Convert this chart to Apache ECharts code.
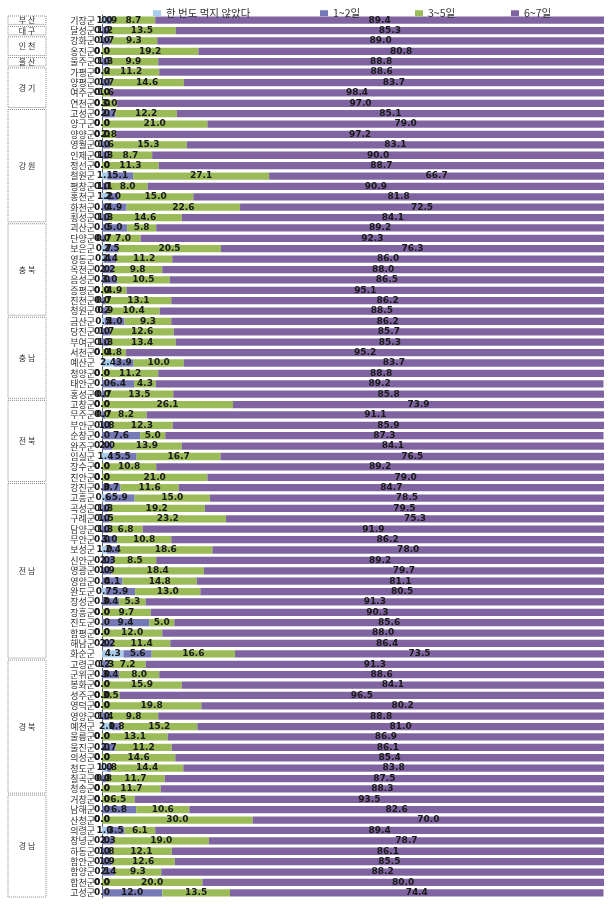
<!DOCTYPE html>
<html>
<head>
<meta charset="utf-8">
<script src="https://cdn.jsdelivr.net/npm/echarts@6/dist/echarts.min.js"></script>
<style>
  html, body { margin: 0; padding: 0; background: #fff; }
  #chart { width: 614px; height: 908px; }
</style>
</head>
<body>
<div id="chart"></div>
<script>
const categories = [
  '기장군', '달성군', '강화군', '옹진군', '울주군',
  '가평군', '양평군', '여주군', '연천군',
  '고성군', '양구군', '양양군', '영월군', '인제군', '정선군', '철원군', '평창군', '홍천군', '화천군', '횡성군',
  '괴산군', '단양군', '보은군', '영동군', '옥천군', '음성군', '증평군', '진천군', '청원군',
  '금산군', '당진군', '부여군', '서천군', '예산군', '청양군', '태안군', '홍성군',
  '고창군', '무주군', '부안군', '순창군', '완주군', '임실군', '장수군', '진안군',
  '강진군', '고흥군', '곡성군', '구례군', '담양군', '무안군', '보성군', '신안군', '영광군', '영암군',
  '완도군', '장성군', '장흥군', '진도군', '함평군', '해남군', '화순군',
  '고령군', '군위군', '봉화군', '성주군', '영덕군', '영양군', '예천군', '울릉군', '울진군', '의성군',
  '청도군', '칠곡군', '청송군',
  '거창군', '남해군', '산청군', '의령군', '창녕군', '하동군', '함안군', '함양군', '합천군', '고성군'
];

const neverAte = [
  1.0, 0.0, 0.0, 0.0, 0.0,
  0.0, 0.0, 0.0, 0.0,
  0.0, 0.0, 0.0, 0.0, 0.0, 0.0, 1.1, 0.0, 1.2, 0.0, 0.0,
  0.0, 0.0, 0.7, 0.4, 0.0, 0.0, 0.0, 0.0, 0.2,
  0.5, 0.0, 0.0, 0.0, 2.4, 0.0, 0.0, 0.0,
  0.0, 0.0, 0.0, 0.0, 0.0, 1.4, 0.0, 0.0,
  0.0, 0.6, 0.0, 0.0, 0.0, 0.0, 1.0, 0.0, 0.0, 0.0,
  0.7, 0.0, 0.0, 0.0, 0.0, 0.0, 4.3,
  0.2, 0.0, 0.0, 0.0, 0.0, 0.0, 2.0, 0.0, 0.0, 0.0,
  1.0, 0.0, 0.0,
  0.0, 0.0, 0.0, 1.0, 0.0, 0.0, 0.0, 0.1, 0.0, 0.0
];

const days12 = [
  0.9, 1.2, 1.7, 0.0, 1.3,
  0.2, 1.7, 0.0, 0.0,
  2.7, 0.0, 0.0, 1.6, 1.3, 0.0, 5.1, 1.1, 2.0, 4.9, 1.3,
  5.0, 0.7, 2.5, 2.4, 2.2, 3.0, 0.0, 0.7, 0.9,
  4.0, 1.7, 1.3, 0.0, 3.9, 0.0, 6.4, 0.7,
  0.0, 0.7, 1.8, 7.6, 2.0, 5.5, 0.0, 0.0,
  3.7, 5.9, 1.3, 1.5, 1.3, 3.0, 2.4, 2.3, 1.9, 4.1,
  5.9, 3.4, 0.0, 9.4, 0.0, 2.2, 5.6,
  1.3, 3.4, 0.0, 0.0, 0.0, 1.4, 1.8, 0.0, 2.7, 0.0,
  0.8, 0.8, 0.0,
  0.0, 6.8, 0.0, 3.5, 2.3, 1.8, 1.9, 2.4, 0.0, 12.0
];

const days35 = [
  8.7, 13.5, 9.3, 19.2, 9.9,
  11.2, 14.6, 1.6, 3.0,
  12.2, 21.0, 2.8, 15.3, 8.7, 11.3, 27.1, 8.0, 15.0, 22.6, 14.6,
  5.8, 7.0, 20.5, 11.2, 9.8, 10.5, 4.9, 13.1, 10.4,
  9.3, 12.6, 13.4, 4.8, 10.0, 11.2, 4.3, 13.5,
  26.1, 8.2, 12.3, 5.0, 13.9, 16.7, 10.8, 21.0,
  11.6, 15.0, 19.2, 23.2, 6.8, 10.8, 18.6, 8.5, 18.4, 14.8,
  13.0, 5.3, 9.7, 5.0, 12.0, 11.4, 16.6,
  7.2, 8.0, 15.9, 3.5, 19.8, 9.8, 15.2, 13.1, 11.2, 14.6,
  14.4, 11.7, 11.7,
  6.5, 10.6, 30.0, 6.1, 19.0, 12.1, 12.6, 9.3, 20.0, 13.5
];

const days67 = [
  89.4, 85.3, 89.0, 80.8, 88.8,
  88.6, 83.7, 98.4, 97.0,
  85.1, 79.0, 97.2, 83.1, 90.0, 88.7, 66.7, 90.9, 81.8, 72.5, 84.1,
  89.2, 92.3, 76.3, 86.0, 88.0, 86.5, 95.1, 86.2, 88.5,
  86.2, 85.7, 85.3, 95.2, 83.7, 88.8, 89.2, 85.8,
  73.9, 91.1, 85.9, 87.3, 84.1, 76.5, 89.2, 79.0,
  84.7, 78.5, 79.5, 75.3, 91.9, 86.2, 78.0, 89.2, 79.7, 81.1,
  80.5, 91.3, 90.3, 85.6, 88.0, 86.4, 73.5,
  91.3, 88.6, 84.1, 96.5, 80.2, 88.8, 81.0, 86.9, 86.1, 85.4,
  83.8, 87.5, 88.3,
  93.5, 82.6, 70.0, 89.4, 78.7, 86.1, 85.5, 88.2, 80.0, 74.4
];

// 시도 구분 (이름, 포함 군 수)
const regionNames = ['부 산', '대 구', '인 천', '울 산', '경 기', '강 원', '충 북', '충 남', '전 북', '전 남', '경 북', '경 남'];
const regionSizes = [1, 1, 2, 1, 4, 11, 9, 8, 8, 17, 13, 10];

const seriesNames = ['한 번도 먹지 않았다', '1~2일', '3~5일', '6~7일'];
const seriesColors = ['#a9cdec', '#7579b5', '#9bbb59', '#8064a2'];
const legendLeft = [148, 315, 410, 506];

const chart = echarts.init(document.getElementById('chart'));

const makeSeries = (name, data, color) => ({
  name: name,
  type: 'bar',
  stack: 'total',
  data: data,
  barWidth: '70%',
  itemStyle: { color: color },
  label: {
    show: true,
    position: 'inside',
    color: '#1a1a1a',
    fontSize: 9,
    fontWeight: 'bold',
    fontFamily: 'DejaVu Sans',
    formatter: p => p.value.toFixed(1)
  },
  emphasis: { disabled: true }
});

const option = {
  animation: false,
  legend: seriesNames.map((n, i) => ({
    data: [n],
    left: legendLeft[i],
    top: 3,
    icon: 'rect',
    itemWidth: 8,
    itemHeight: 6,
    itemGap: 4,
    textStyle: { fontSize: 10.5, color: '#333', fontFamily: 'Noto Sans CJK KR' },
    selectedMode: false
  })),
  grid: {
    left: 102,
    right: 10,
    top: 15,
    bottom: 10,
    containLabel: false
  },
  xAxis: {
    type: 'value',
    min: 0,
    max: 100,
    show: false
  },
  yAxis: {
    type: 'category',
    data: categories,
    inverse: true,
    axisLine: { lineStyle: { color: '#556070', width: 1 } },
    axisTick: { show: false },
    axisLabel: {
      color: '#333',
      fontSize: 9,
      lineHeight: 10,
      margin: 7,
      interval: 0,
      fontFamily: 'Noto Sans CJK KR'
    }
  },
  series: [
    makeSeries(seriesNames[0], neverAte, seriesColors[0]),
    makeSeries(seriesNames[1], days12, seriesColors[1]),
    makeSeries(seriesNames[2], days35, seriesColors[2]),
    makeSeries(seriesNames[3], days67, seriesColors[3])
  ]
};

chart.setOption(option);

// 시도 구분 박스
const drawRegionBoxes = () => {
  const y0 = chart.convertToPixel({ yAxisIndex: 0 }, 0);
  const y1 = chart.convertToPixel({ yAxisIndex: 0 }, 1);
  const band = y1 - y0;
  const elements = [];
  let start = 0;
  regionNames.forEach((name, i) => {
    const end = start + regionSizes[i] - 1;
    const top = chart.convertToPixel({ yAxisIndex: 0 }, start) - band / 2 + 1;
    const bottom = chart.convertToPixel({ yAxisIndex: 0 }, end) + band / 2 - 1;
    elements.push({
      type: 'rect',
      shape: { x: 8, y: top, width: 38, height: bottom - top },
      style: { fill: 'none', stroke: '#888', lineWidth: 1, lineDash: [1, 1] },
      silent: true
    });
    elements.push({
      type: 'text',
      x: 27,
      y: (top + bottom) / 2,
      style: {
        text: name,
        fill: '#333',
        fontSize: 8,
        fontFamily: 'Noto Sans CJK KR',
        align: 'center',
        verticalAlign: 'middle'
      },
      silent: true
    });
    start = end + 1;
  });
  chart.setOption({ graphic: elements });
};

drawRegionBoxes();
</script>
</body>
</html>
